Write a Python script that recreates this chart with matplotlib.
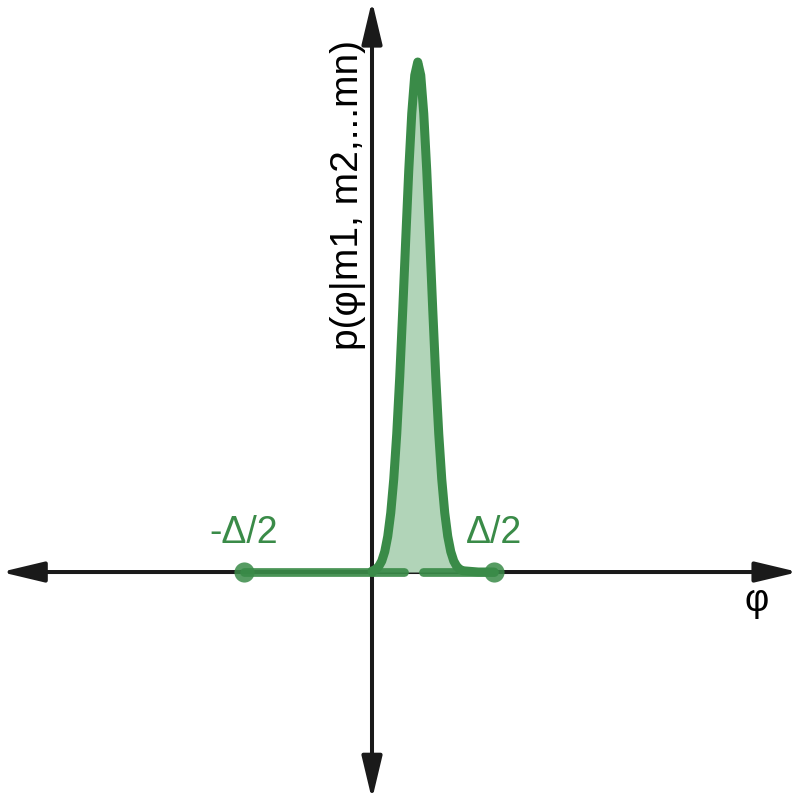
import numpy as np
import matplotlib
matplotlib.use("Agg")
import matplotlib.pyplot as plt
from matplotlib.patches import FancyArrowPatch

plt.rcParams["font.family"] = ["Liberation Sans", "DejaVu Sans"]

# ── data (x in units where 1 ~ half-interval, y normalised to peak) ─────
DELTA_HALF_X = [-1.024, 0.976]          # -Δ/2 and Δ/2 marker positions
DELTA_LABELS = ["-Δ/2", "Δ/2"]

# posterior peak
peak_x = [0.000, 0.006, 0.030, 0.054, 0.078, 0.102, 0.126, 0.150, 0.174,
          0.198, 0.222, 0.246, 0.270, 0.294, 0.318, 0.342, 0.366, 0.390,
          0.414, 0.438, 0.462, 0.486, 0.510, 0.534, 0.558, 0.582, 0.606,
          0.630, 0.654, 0.678, 0.702, 0.726, 0.850, 0.976]
peak_y = [0.002, 0.0025, 0.0054, 0.011, 0.0216, 0.040, 0.070, 0.116, 0.182,
          0.271, 0.383, 0.514, 0.653, 0.787, 0.899, 0.974, 1.000, 0.974,
          0.899, 0.787, 0.653, 0.514, 0.383, 0.271, 0.182, 0.116, 0.070,
          0.040, 0.0216, 0.011, 0.0054, 0.0025, 0.0, 0.0]

# baseline segments along the φ axis
base_segments = [(-1.024, 0.0), (0.0, 0.256), (0.408, 0.976)]

GREEN = "#3a8b48"
FILL = "#b1d4b8"
AXIS = "#1a1a1a"

fig = plt.figure(figsize=(8, 8), dpi=100)
ax = fig.add_axes([0, 0, 1, 1])
ax.set_xlim(-2.976, 3.424)
ax.set_ylim(-0.447, 1.1216)
ax.axis("off")

# axes with arrow heads
for (p0, p1) in [((-2.968, 0), (3.41, 0)), ((0, -0.446), (0, 1.12))]:
    arr = FancyArrowPatch(p0, p1, arrowstyle="<|-|>,head_length=2.6,head_width=0.62",
                          mutation_scale=10, color=AXIS, lw=2.9,
                          shrinkA=0, shrinkB=0, zorder=1)
    ax.add_patch(arr)

# baseline and interval end points
for a, b in base_segments:
    ax.plot([a, b], [0, 0], color=GREEN, lw=6.3, alpha=0.92,
            solid_capstyle="round", zorder=3)
ax.plot(DELTA_HALF_X, [0, 0], "o", color=GREEN, ms=14.5, alpha=0.85,
        mec="none", zorder=2)

# peak
ax.fill_between(peak_x, peak_y, 0, color=FILL, lw=0, zorder=2)
ax.plot(peak_x, peak_y, color=GREEN, lw=6.5, solid_capstyle="round",
        solid_joinstyle="round", zorder=4)

# labels
for x, lab in zip(DELTA_HALF_X, DELTA_LABELS):
    ax.text(x, 0.057, lab, color=GREEN, fontsize=27, ha="center", va="baseline")
ax.text(3.08, -0.057, "φ", color="black", fontsize=27, ha="center", va="center")
ax.text(-0.192, 0.739, "p(φ|m1, m2,...mn)", color="black", fontsize=28,
        rotation=90, ha="center", va="center")

fig.savefig("out.png", dpi=100)
